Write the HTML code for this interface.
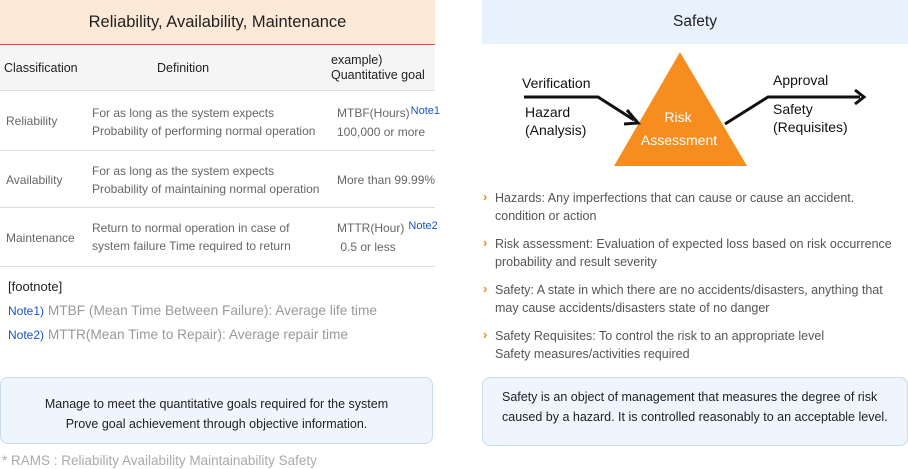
<!DOCTYPE html>
<html><head><style>
body{margin:0;width:908px;height:469px;background:#fff;position:relative;overflow:hidden;font-family:"Liberation Sans",sans-serif;}
.a{position:absolute;white-space:nowrap;}
.g{color:#666;font-size:12px;line-height:18px;}
.n{color:#1a56c4;}
.s{font-size:11px;position:relative;top:-3px;margin-left:1px;}
.b{position:absolute;color:#555;font-size:12.5px;line-height:18px;}
.b:before{content:"›";position:absolute;left:-12px;top:-1px;color:#f08a1c;font-weight:bold;font-size:13px;}
</style></head><body>
<div class="a" style="left:0;top:0;width:435px;height:44px;background:#fde9d7;border-bottom:1px solid #d9534f;text-align:center;line-height:44px;font-size:16.5px;color:#222">Reliability, Availability, Maintenance</div>
<div class="a" style="left:0;top:45px;width:435px;height:45px;background:#f5f5f5;border-bottom:1px solid #ddd"></div>
<div class="a" style="left:4px;top:61px;font-size:12.5px;color:#222">Classification</div>
<div class="a" style="left:157px;top:61px;font-size:12.5px;color:#222">Definition</div>
<div class="a" style="left:331px;top:53px;font-size:12.5px;color:#222;line-height:15px">example)<br>Quantitative goal</div>
<div class="a" style="left:0;top:150px;width:435px;border-top:1px solid #ddd"></div>
<div class="a" style="left:0;top:207px;width:435px;border-top:1px solid #ddd"></div>
<div class="a" style="left:0;top:266px;width:435px;border-top:1px solid #ddd"></div>
<div class="a g" style="left:6px;top:112px">Reliability</div>
<div class="a g" style="left:92px;top:104px">For as long as the system expects<br>Probability of performing normal operation</div>
<div class="a g" style="left:337px;top:104px">MTBF(Hours)<span class="n s">Note1</span><br>100,000 or more</div>
<div class="a g" style="left:6px;top:171px">Availability</div>
<div class="a g" style="left:92px;top:162px">For as long as the system expects<br>Probability of maintaining normal operation</div>
<div class="a g" style="left:337px;top:171px">More than 99.99%</div>
<div class="a g" style="left:6px;top:229px">Maintenance</div>
<div class="a g" style="left:92px;top:219px">Return to normal operation in case of<br>system failure Time required to return</div>
<div class="a g" style="left:337px;top:219px">MTTR(Hour)<span class="n s"> Note2</span><br>&nbsp;0.5 or less</div>
<div class="a" style="left:8px;top:279px;font-size:13px;color:#222">[footnote]</div>
<div class="a" style="left:8px;top:303px;font-size:13.7px;color:#999"><span class="n" style="font-size:12px">Note1)</span> MTBF (Mean Time Between Failure): Average life time</div>
<div class="a" style="left:8px;top:327px;font-size:13.7px;color:#999"><span class="n" style="font-size:12px">Note2)</span> MTTR(Mean Time to Repair): Average repair time</div>
<div class="a" style="left:0;top:377px;width:433px;height:67px;background:#eef5fc;border:1px solid #c9dbec;border-radius:8px;text-align:center;font-size:12.5px;line-height:20px;color:#222;box-sizing:border-box;padding-top:16px">Manage to meet the quantitative goals required for the system<br>Prove goal achievement through objective information.</div>
<div class="a" style="left:2px;top:453px;font-size:13.5px;color:#aaa">* RAMS : Reliability Availability Maintainability Safety</div>

<div class="a" style="left:482px;top:0;width:426px;height:44px;background:#e8f2fc;text-align:center;line-height:44px;font-size:15.5px;color:#222">Safety</div>
<svg class="a" style="left:0;top:0" width="908" height="469">
<polygon points="680,52 614,166 747,166" fill="#f78d1f"/>
<polyline points="524,97 598,97 634,120" fill="none" stroke="#111" stroke-width="3"/>
<polyline points="627,110 638,123 624,124" fill="none" stroke="#111" stroke-width="3"/>
<polyline points="725,124 768,97 860,97" fill="none" stroke="#111" stroke-width="3"/>
<polyline points="855,90 864,97 855,104" fill="none" stroke="#111" stroke-width="3"/>
<text x="678" y="122" fill="#fff" font-size="14" text-anchor="middle" font-family="Liberation Sans">Risk</text>
<text x="679" y="145" fill="#fff" font-size="14" text-anchor="middle" font-family="Liberation Sans">Assessment</text>
<text x="522" y="88" fill="#111" font-size="14" font-family="Liberation Sans">Verification</text>
<text x="525" y="117" fill="#111" font-size="14" font-family="Liberation Sans">Hazard</text>
<text x="525" y="135" fill="#111" font-size="14" font-family="Liberation Sans">(Analysis)</text>
<text x="773" y="85" fill="#111" font-size="14" font-family="Liberation Sans">Approval</text>
<text x="773" y="114" fill="#111" font-size="14" font-family="Liberation Sans">Safety</text>
<text x="773" y="132" fill="#111" font-size="14" font-family="Liberation Sans">(Requisites)</text>
</svg>
<div class="b" style="left:495px;top:189px">Hazards: Any imperfections that can cause or cause an accident.<br>condition or action</div>
<div class="b" style="left:495px;top:235px">Risk assessment: Evaluation of expected loss based on risk occurrence<br>probability and result severity</div>
<div class="b" style="left:495px;top:281px">Safety: A state in which there are no accidents/disasters, anything that<br>may cause accidents/disasters state of no danger</div>
<div class="b" style="left:495px;top:327px">Safety Requisites: To control the risk to an appropriate level<br>Safety measures/activities required</div>
<div class="a" style="left:482px;top:377px;width:426px;height:69px;background:#eef5fc;border:1px solid #c9dbec;border-radius:8px;font-size:12.5px;line-height:20px;color:#222;box-sizing:border-box;padding:9px 0 0 19px">Safety is an object of management that measures the degree of risk<br>caused by a hazard. It is controlled reasonably to an acceptable level.</div>
</body></html>
